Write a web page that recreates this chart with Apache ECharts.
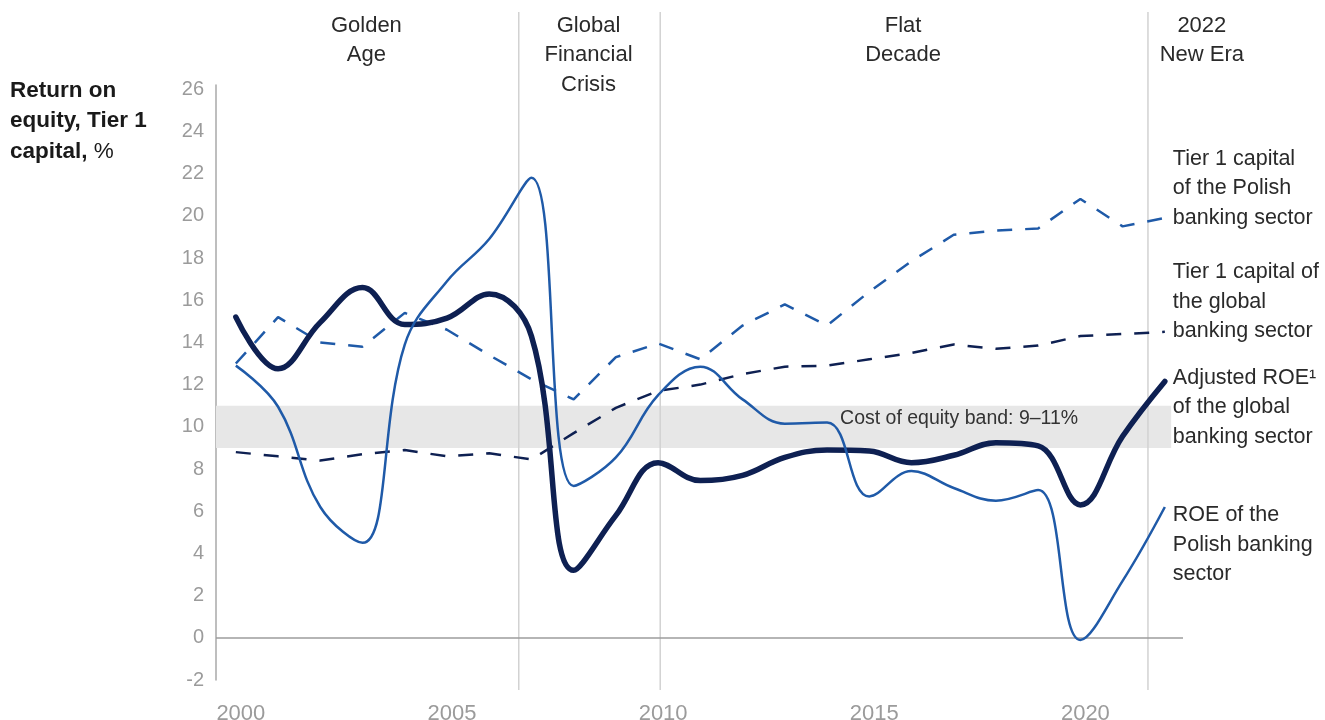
<!DOCTYPE html>
<html>
<head>
<meta charset="utf-8">
<script src="https://cdn.jsdelivr.net/npm/echarts@6/dist/echarts.min.js"></script>
<style>
  html, body { margin: 0; padding: 0; background: #ffffff; }
  #chart { width: 1325px; height: 720px; }
</style>
</head>
<body>
<div id="chart"></div>
<script>
// Return on equity and Tier 1 capital, global vs. Polish banking sector, %
const years = [2000, 2001, 2002, 2003, 2004, 2005, 2006, 2007, 2008, 2009, 2010, 2011,
               2012, 2013, 2014, 2015, 2016, 2017, 2018, 2019, 2020, 2021, 2022];
const tickYears = [2000, 2005, 2010, 2015, 2020];

const adjustedRoeGlobal = [15.2, 12.75, 14.95, 16.6, 14.85, 15.15, 16.3, 14.3, 3.2, 5.8, 8.3, 7.45,
                           7.7, 8.55, 8.9, 8.85, 8.3, 8.65, 9.25, 9.1, 6.3, 9.55, 12.15];
const roePoland = [12.9, 10.95, 6.2, 4.5, 13.9, 16.9, 18.9, 21.8, 7.2, 8.55, 11.5, 12.85,
                   11.3, 10.15, 10.2, 6.7, 7.9, 7.1, 6.5, 7.0, -0.1, 2.7, 6.2];
const tier1Poland = [13.0, 15.2, 14.0, 13.8, 15.4, 14.6, 13.4, 12.25, 11.3, 13.3, 13.95, 13.2,
                     14.8, 15.8, 14.8, 16.4, 17.85, 19.1, 19.3, 19.4, 20.8, 19.5, 19.9];
const tier1Global = [8.8, 8.6, 8.4, 8.7, 8.9, 8.6, 8.75, 8.45, 9.7, 10.9, 11.7, 12.0,
                     12.5, 12.85, 12.9, 13.2, 13.5, 13.9, 13.7, 13.85, 14.3, 14.4, 14.5];

const costOfEquityBand = [9, 11];
const eraBreaks = [2006.7, 2010.05, 2021.6];
const eraNames = ['Golden\nAge', 'Global\nFinancial\nCrisis', 'Flat\nDecade', '2022\nNew Era'];

const seriesLabels = {
  tier1Poland: 'Tier 1 capital\nof the Polish\nbanking sector',
  tier1Global: 'Tier 1 capital of\nthe global\nbanking sector',
  adjustedRoeGlobal: 'Adjusted ROE\u00B9\nof the global\nbanking sector',
  roePoland: 'ROE of the\nPolish banking\nsector'
};

// axis extent leaves a little room either side of the first and last year
const X_MIN = 1999.53;
const X_MAX = 2022.43;
const BAND_END = 2022.15;
const FONT = '"Liberation Sans", Arial, sans-serif';
const NAVY = '#0e2052';
const BLUE = '#1f5aa8';
const TEXT = '#2a2a2a';
const TICK = '#9b9b9b';

const pairs = arr => years.map((y, i) => [y, arr[i]]);

function endLabel(text, dy) {
  return {
    show: true,
    formatter: () => text,
    color: TEXT,
    fontFamily: FONT,
    fontSize: 21.5,
    lineHeight: 29.5,
    distance: 8,
    align: 'left',
    verticalAlign: 'middle',
    offset: [0, dy]
  };
}

// era spans: from axis start to first break, between breaks, and past the last break
const eraSpans = eraNames.map((name, i) => [
  i === 0 ? X_MIN : eraBreaks[i - 1],
  i < eraBreaks.length ? eraBreaks[i] : eraBreaks[i - 1] + 2.6,
  i
]);

const chart = echarts.init(document.getElementById('chart'), null, { renderer: 'canvas' });

chart.setOption({
  animation: false,
  backgroundColor: '#ffffff',
  grid: { left: 216, right: 142, top: 85, bottom: 40, containLabel: false, outerBoundsMode: 'none' },
  xAxis: {
    type: 'value',
    min: X_MIN,
    max: X_MAX,
    axisLine: { show: false },
    axisTick: { show: false },
    splitLine: { show: false },
    axisLabel: {
      customValues: tickYears,
      formatter: v => String(v),
      color: TICK,
      fontFamily: FONT,
      fontSize: 22,
      margin: 23,
      padding: [0, 0, 0, 10]
    }
  },
  yAxis: {
    type: 'value',
    min: -2,
    max: 26.2,
    interval: 2,
    axisLine: { show: true, lineStyle: { color: '#a8a8a8', width: 1.5 } },
    axisTick: { show: false },
    splitLine: { show: false },
    axisLabel: {
      formatter: v => (Math.abs(v % 2) < 1e-9 ? String(v) : ''),
      color: TICK,
      fontFamily: FONT,
      fontSize: 20,
      margin: 12
    }
  },
  graphic: [
    {
      type: 'text',
      left: 10,
      top: 79,
      style: {
        text: '{b|Return on}\n{b|equity, Tier 1}\n{b|capital,}{r| %}',
        rich: {
          b: { fontFamily: FONT, fontSize: 22.5, fontWeight: 'bold', lineHeight: 30.5, fill: '#1a1a1a' },
          r: { fontFamily: FONT, fontSize: 22.5, lineHeight: 30.5, fill: '#1a1a1a' }
        }
      }
    }
  ],
  series: [
    {
      // era boundaries
      type: 'custom',
      silent: true,
      z: 1,
      data: eraBreaks.map(v => [v, 0]),
      encode: { x: 0, y: 1 },
      renderItem: (params, api) => {
        const x = api.coord([api.value(0), 0])[0];
        return {
          type: 'line',
          shape: { x1: x, y1: 12, x2: x, y2: 690 },
          style: { stroke: '#d2d2d2', lineWidth: 1.5 }
        };
      }
    },
    {
      // era titles
      type: 'custom',
      silent: true,
      z: 1,
      data: eraSpans,
      encode: { x: [0, 1] },
      renderItem: (params, api) => {
        const a = api.coord([api.value(0), 0])[0];
        const b = api.coord([api.value(1), 0])[0];
        return {
          type: 'text',
          x: (a + b) / 2 - 1,
          y: 11,
          style: {
            text: eraNames[api.value(2)],
            align: 'center',
            verticalAlign: 'top',
            fontFamily: FONT,
            fontSize: 22,
            lineHeight: 29.5,
            fill: TEXT
          }
        };
      }
    },
    {
      name: 'Tier 1 capital of the Polish banking sector',
      type: 'line',
      z: 2,
      data: pairs(tier1Poland),
      showSymbol: false,
      symbol: 'none',
      lineStyle: { color: BLUE, width: 2.5, type: [15, 13] },
      endLabel: endLabel(seriesLabels.tier1Poland, -29.5),
      markArea: {
        silent: true,
        itemStyle: { color: '#e7e7e7' },
        label: {
          show: true,
          position: 'insideRight',
          offset: [-88, -8],
          color: '#333333',
          fontFamily: FONT,
          fontSize: 19.5
        },
        data: [[
          { name: 'Cost of equity band: 9\u201311%', coord: [X_MIN, costOfEquityBand[0]] },
          { coord: [BAND_END, costOfEquityBand[1]] }
        ]]
      },
      markLine: {
        silent: true,
        symbol: 'none',
        label: { show: false },
        lineStyle: { color: '#9c9c9c', width: 1.5, type: 'solid' },
        data: [{ yAxis: 0 }]
      }
    },
    {
      name: 'Tier 1 capital of the global banking sector',
      type: 'line',
      z: 3,
      data: pairs(tier1Global),
      showSymbol: false,
      symbol: 'none',
      lineStyle: { color: NAVY, width: 2.5, type: [15, 13] },
      endLabel: endLabel(seriesLabels.tier1Global, -30)
    },
    {
      name: 'Adjusted ROE of the global banking sector',
      type: 'line',
      z: 4,
      data: pairs(adjustedRoeGlobal),
      smooth: 0.4,
      showSymbol: false,
      symbol: 'none',
      lineStyle: { color: NAVY, width: 5.5, cap: 'round', join: 'round' },
      endLabel: endLabel(seriesLabels.adjustedRoeGlobal, 26)
    },
    {
      name: 'ROE of the Polish banking sector',
      type: 'line',
      z: 5,
      data: pairs(roePoland),
      smooth: 0.4,
      showSymbol: false,
      symbol: 'none',
      lineStyle: { color: BLUE, width: 2.5 },
      endLabel: endLabel(seriesLabels.roePoland, 38)
    }
  ]
});
</script>
</body>
</html>
